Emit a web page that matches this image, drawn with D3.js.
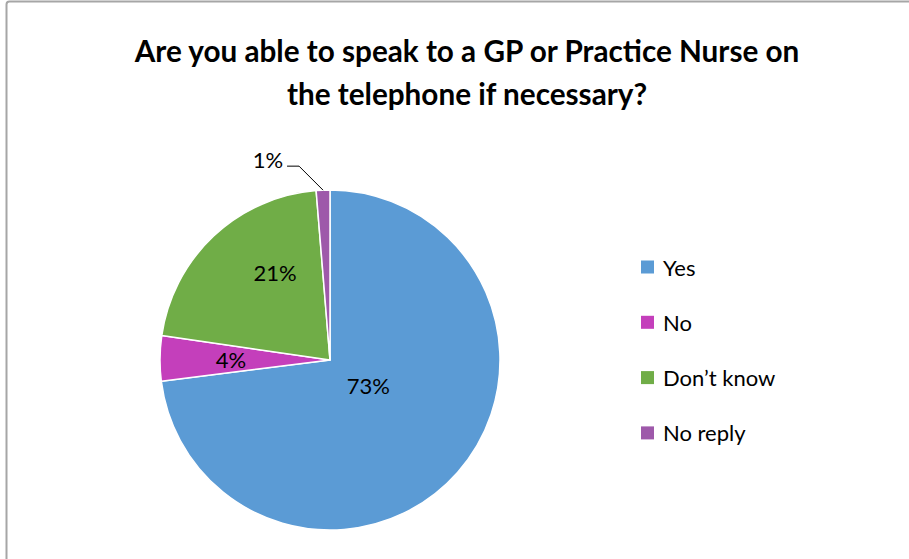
<!DOCTYPE html>
<html>
<head>
<meta charset="utf-8">
<script src="https://cdn.jsdelivr.net/npm/d3@7"></script>
<style>
  html, body { margin: 0; padding: 0; background: #fff; }
  svg { display: block; }
  text { font-family: Lato, "Open Sans", "Liberation Sans", sans-serif; }
</style>
</head>
<body>
<svg id="chart" width="909" height="559"></svg>
<script>
// ---- data ----
const categories = ["Yes", "No", "Don\u2019t know", "No reply"];
const values = [73.0, 4.3, 21.4, 1.3];
const labels = ["73%", "4%", "21%", "1%"];
const colors = ["#5B9BD5", "#C43FBB", "#70AD47", "#9E59AA"];
const titleLines = ["Are you able to speak to a GP or Practice Nurse on", "the telephone if necessary?"];

// ---- layout ----
const svg = d3.select("#chart");
const cx = 330, cy = 360, R = 170;
const fs = 22;

// chart border (left and top visible)
svg.append("rect")
  .attr("x", 6.5).attr("y", 1.5)
  .attr("width", 920).attr("height", 600)
  .attr("rx", 3)
  .attr("fill", "#fff")
  .attr("stroke", "#a6a6a6")
  .attr("stroke-width", 2);

// title
const title = svg.append("text")
  .attr("text-anchor", "middle")
  .attr("font-weight", "bold")
  .attr("font-size", 26)
  .attr("fill", "#000");
titleLines.forEach((t, i) => {
  title.append("tspan").attr("x", 467).attr("y", 62 + i * 43).text(t);
});
{
  const first = title.select("tspan").node();
  const w = first.getComputedTextLength();
  title.attr("font-size", 26 * 665 / w);
}

// pie
const pie = d3.pie().sort(null).value(d => d)
  .startAngle(0).endAngle(2 * Math.PI);
const arcs = pie(values);
const arc = d3.arc().innerRadius(0).outerRadius(R);

const g = svg.append("g").attr("transform", `translate(${cx},${cy})`);
g.selectAll("path.slice")
  .data(arcs)
  .join("path")
  .attr("class", "slice")
  .attr("d", arc)
  .attr("fill", (d, i) => colors[i])
  .attr("stroke", "#fff")
  .attr("stroke-width", 1.5)
  .attr("stroke-linejoin", "round");

// label placement config (radius, angle offset in degrees)
const labelCfg = [
  { r: 46, da: -8 },
  { r: 99, da: 0 },
  { r: 103, da: 11 },
  null
];
arcs.forEach((d, i) => {
  const cfg = labelCfg[i];
  if (!cfg) return;
  const a = (d.startAngle + d.endAngle) / 2 + cfg.da * Math.PI / 180;
  const x = Math.sin(a) * cfg.r, y = -Math.cos(a) * cfg.r;
  g.append("text")
    .attr("x", x).attr("y", y)
    .attr("text-anchor", "middle")
    .attr("dominant-baseline", "central")
    .attr("font-size", fs)
    .attr("fill", "#000")
    .text(labels[i]);
});

// outside label for small slice with leader line
{
  const d = arcs[3];
  const a = (d.startAngle + d.endAngle) / 2;
  const px = Math.sin(a) * R, py = -Math.cos(a) * R;
  const lx = px - 24, ly = py - 24;
  g.append("path")
    .attr("d", `M${px},${py}L${lx},${ly}L${lx - 12},${ly}`)
    .attr("fill", "none")
    .attr("stroke", "#000")
    .attr("stroke-width", 1);
  g.append("text")
    .attr("x", lx - 16).attr("y", ly - 7)
    .attr("text-anchor", "end")
    .attr("dominant-baseline", "central")
    .attr("font-size", fs)
    .attr("fill", "#000")
    .text(labels[3]);
}

// legend
const legend = svg.append("g").attr("transform", "translate(641,267)");
const legItems = legend.selectAll("g")
  .data(categories)
  .join("g")
  .attr("transform", (d, i) => `translate(0,${i * 55.3})`);
legItems.append("rect")
  .attr("x", 0).attr("y", -6.5)
  .attr("width", 13).attr("height", 13)
  .attr("fill", (d, i) => colors[i]);
legItems.append("text")
  .attr("x", 22).attr("y", 0)
  .attr("dominant-baseline", "central")
  .attr("font-size", fs)
  .attr("fill", "#000")
  .text(d => d);
</script>
</body>
</html>
